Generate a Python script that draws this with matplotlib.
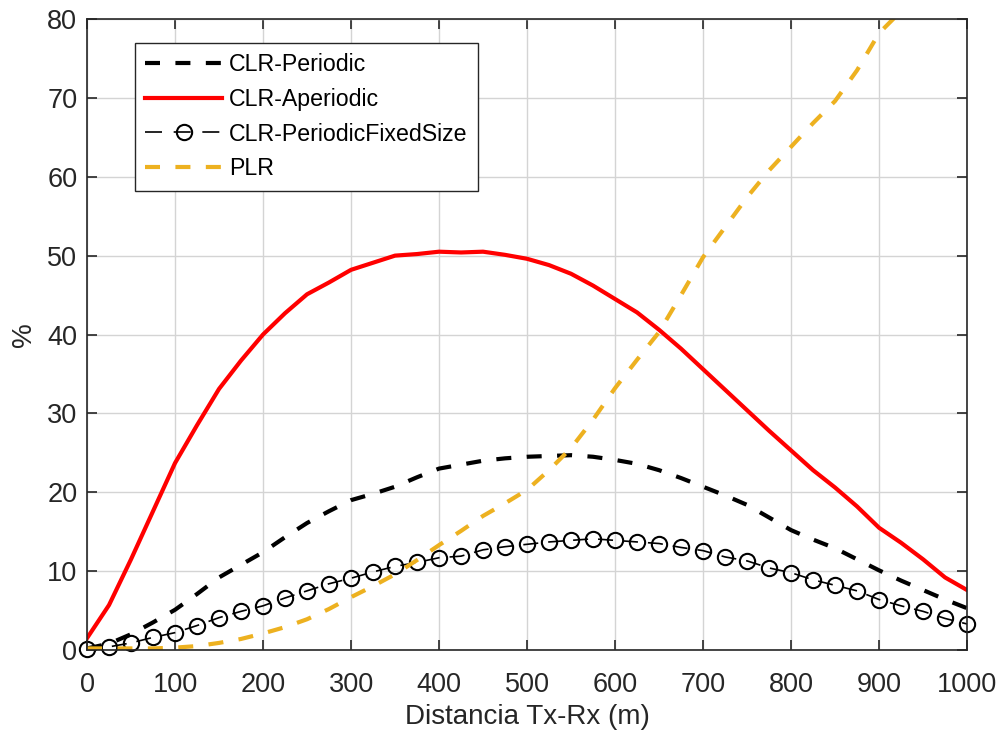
import matplotlib.pyplot as plt
from matplotlib.lines import Line2D
import numpy as np

plt.rcParams['font.family'] = ['Liberation Sans', 'DejaVu Sans']

dist = np.arange(0, 1001, 25)

clr_periodic = [0.2, 0.8, 2.0, 3.5, 5.1, 7.1, 9.2, 10.8, 12.4, 14.3, 16.1, 17.6, 19.0, 19.8, 20.7, 21.9,
                23.0, 23.5, 24.0, 24.3, 24.5, 24.6, 24.7, 24.5, 24.1, 23.6, 22.8, 21.8, 20.7, 19.6,
                18.4, 16.8, 15.2, 14.0, 12.9, 11.5, 10.1, 8.8, 7.6, 6.4, 5.3]
clr_aperiodic = [1.5, 5.7, 11.5, 17.6, 23.7, 28.5, 33.1, 36.7, 40.0, 42.7, 45.1, 46.6, 48.2, 49.1,
                 50.0, 50.2, 50.5, 50.4, 50.5, 50.1, 49.6, 48.8, 47.7, 46.2, 44.5, 42.8, 40.6, 38.2,
                 35.6, 33.0, 30.4, 27.8, 25.3, 22.8, 20.6, 18.2, 15.5, 13.6, 11.5, 9.2, 7.6]
clr_fixed = [0.1, 0.4, 0.9, 1.6, 2.2, 3.1, 4.1, 4.9, 5.6, 6.6, 7.5, 8.4, 9.1, 9.9, 10.6, 11.1, 11.7,
             11.9, 12.7, 13.1, 13.4, 13.7, 13.9, 14.1, 13.9, 13.7, 13.5, 13.0, 12.6, 11.8, 11.3,
             10.4, 9.8, 8.9, 8.2, 7.5, 6.4, 5.6, 4.9, 4.0, 3.3]
plr = [0.2, 0.2, 0.2, 0.2, 0.3, 0.5, 0.9, 1.4, 2.1, 2.9, 3.9, 5.2, 6.7, 8.1, 9.6, 11.4, 13.3, 15.1,
       17.0, 18.6, 20.3, 22.8, 25.6, 29.2, 33.2, 36.8, 40.3, 45.0, 49.8, 53.6, 57.4, 60.8, 63.8,
       66.8, 69.6, 73.5, 78.2, 81.0, 84.0, 87.0, 90.0]

fig = plt.figure(figsize=(9.98, 7.31), dpi=100)
ax = fig.add_axes([0.0872, 0.1108, 0.8818, 0.8632])

h1, = ax.plot(dist, clr_periodic, color="black", lw=3, dashes=(3.6, 3.7), label="CLR-Periodic")
h2, = ax.plot(dist, clr_aperiodic, color="#FF0000", lw=3, label="CLR-Aperiodic")
ax.plot(dist, clr_fixed, color="black", lw=1.2, dashes=(9, 6), marker="o", ms=11,
        mfc="none", mew=1.5, clip_on=False)
h4, = ax.plot(dist, plr, color="#EDB120", lw=3, dashes=(3.6, 3.7), label="PLR")
# legend entry for the marker line: dash - circle - dash like the matlab legend
h3 = Line2D([], [], color="black", lw=1.2, dashes=(10.2, 7.0), marker="o", ms=11,
            mfc="none", mew=1.5, label="CLR-PeriodicFixedSize")

ax.set_xlim(0, 1000)
ax.set_ylim(0, 80)
ax.set_xticks(np.arange(0, 1001, 100))
ax.set_yticks(np.arange(0, 81, 10))
ax.grid(True, color="#d4d4d4", lw=1)
ax.set_axisbelow(True)
ax.tick_params("both", direction="in", length=7, width=1.2, labelsize=19.5, colors="#262626",
               top=True, right=True)
ax.tick_params("x", pad=16)
ax.tick_params("y", pad=7)
for s in ax.spines.values():
    s.set_color("#262626")
    s.set_linewidth(1.2)
ax.set_xlabel("Distancia Tx-Rx (m)", fontsize=20, color="#262626", labelpad=4)
ax.set_ylabel("%", fontsize=20, color="#262626", labelpad=7)

leg = ax.legend(handles=[h1, h2, h3, h4], loc="upper left", bbox_to_anchor=(0.0545, 0.962),
                fontsize=16.7, frameon=True, fancybox=False, framealpha=1, edgecolor="#262626",
                handlelength=3.3, borderaxespad=0, labelspacing=0.5, handletextpad=0.3,
                borderpad=0.45)
leg.get_frame().set_linewidth(1.0)

plt.savefig("out.png", dpi=100)
